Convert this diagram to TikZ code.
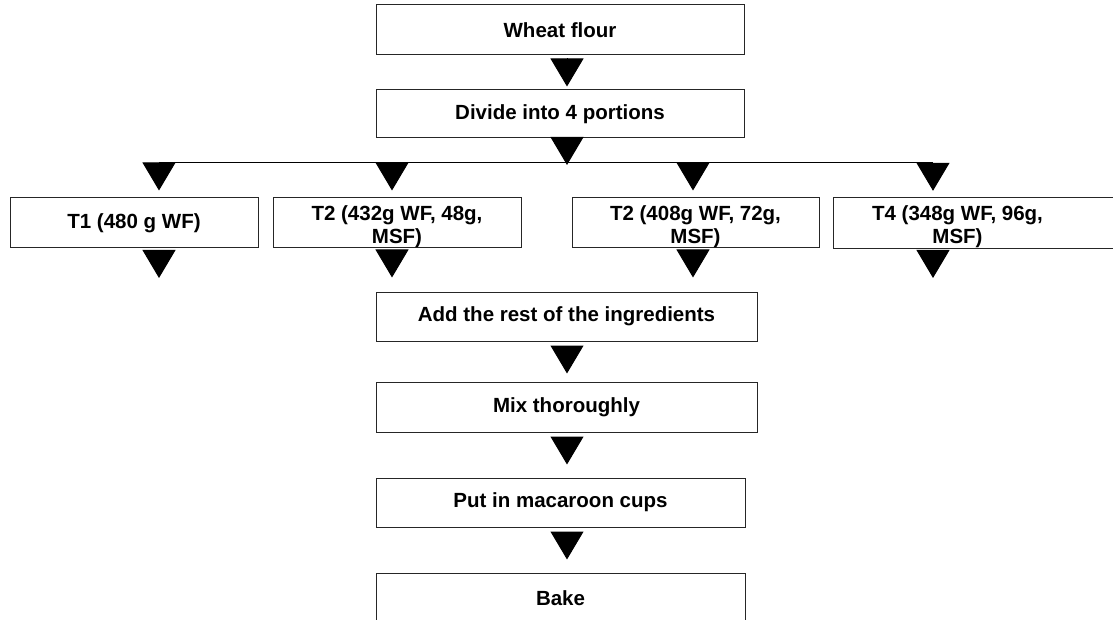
\documentclass[tikz,border=0pt]{standalone}
\usepackage{fontspec}
\setmainfont{Liberation Sans}
\usetikzlibrary{arrows.meta}
\newcommand{\tstrut}{\rule{0pt}{22.5pt}}
\begin{document}
\begin{tikzpicture}[x=1pt,y=-1pt,
  boxline/.style={draw=black!85, line width=1pt},
  txt/.style={inner sep=0pt, align=center, font=\fontsize{20.5}{23}\selectfont\bfseries},
  box/.style={txt, boxline, rectangle},
  flow/.style={-{Triangle[width=33pt,length=28pt]}, line width=1pt, black}]
\useasboundingbox (0,0) rectangle (1113,620);
\clip (0,0) rectangle (1113,620);
\fill[white] (0,0) rectangle (1113,620);
% main column
\node[box, minimum width=368pt, minimum height=50pt] (wheat) at (560,30) {Wheat flour};
\node[box, minimum width=368pt, minimum height=48pt] (divide) at (560,114) {Divide into 4 portions};
% treatments
\node[box, minimum width=248pt, minimum height=50pt] (t1) at (134,223) {T1 (480 g WF)};
\node[box, minimum width=248pt, minimum height=50pt] (t2) at (397,223) {\tstrut T2 (432g WF, 48g,\\MSF)};
\node[box, minimum width=247pt, minimum height=50pt] (t3) at (695.5,223) {\tstrut T2 (408g WF, 72g,\\MSF)};
\node[txt, minimum width=248pt, minimum height=50pt] (t4) at (957.5,223) {\tstrut T4 (348g WF, 96g,\\MSF)};
\draw[boxline] (t4.north west) rectangle ([xshift=80pt]t4.south east);
% lower column
\node[box, minimum width=381pt, minimum height=49pt] (add) at (566.5,316.5) {Add the rest of the ingredients};
\node[box, minimum width=381pt, minimum height=50pt] (mix) at (566.5,407) {Mix thoroughly};
\node[box, minimum width=369pt, minimum height=49pt] (put) at (560.5,502.5) {Put in macaroon cups};
\node[box, minimum width=369pt, minimum height=50pt] (bake) at (560.5,598) {Bake};
% coordinates
\coordinate (cx) at (567,0);
\coordinate (split) at (567,165);
\coordinate (bl) at (159,163);
\coordinate (b2) at (392,163);
\coordinate (b3) at (693,163);
\coordinate (br) at (933,163);
\coordinate (e1) at (159,278);
\coordinate (e4) at (933,278);
% connectors
\draw[flow, shorten <=3pt, shorten >=3pt] (wheat.south -| cx) -- (divide.north -| cx);
\draw[flow, shorten <=1pt] (divide.south -| cx) -- (split);
\draw[line width=1pt] (bl) -- (br);
\draw[flow, shorten >=7pt] (bl) -- (bl |- t1.north);
\draw[flow, shorten >=7pt] (b2) -- (b2 |- t2.north);
\draw[flow, shorten >=7pt] (b3) -- (b3 |- t3.north);
\draw[flow, shorten >=7pt] (br) -- (br |- t4.north);
\draw[flow, shorten <=2pt] (t1.south -| e1) -- (e1);
\draw[flow, shorten <=2pt, shorten >=14pt] (t2.south -| b2) -- (add.north -| b2);
\draw[flow, shorten <=2pt, shorten >=14pt] (t3.south -| b3) -- (add.north -| b3);
\draw[flow, shorten <=2pt] (t4.south -| e4) -- (e4);
\draw[flow, shorten <=5pt, shorten >=8pt] (add.south -| cx) -- (mix.north -| cx);
\draw[flow, shorten <=5pt, shorten >=13pt] (mix.south -| cx) -- (put.north -| cx);
\draw[flow, shorten <=6pt, shorten >=13pt] (put.south -| cx) -- (bake.north -| cx);
\end{tikzpicture}
\end{document}
